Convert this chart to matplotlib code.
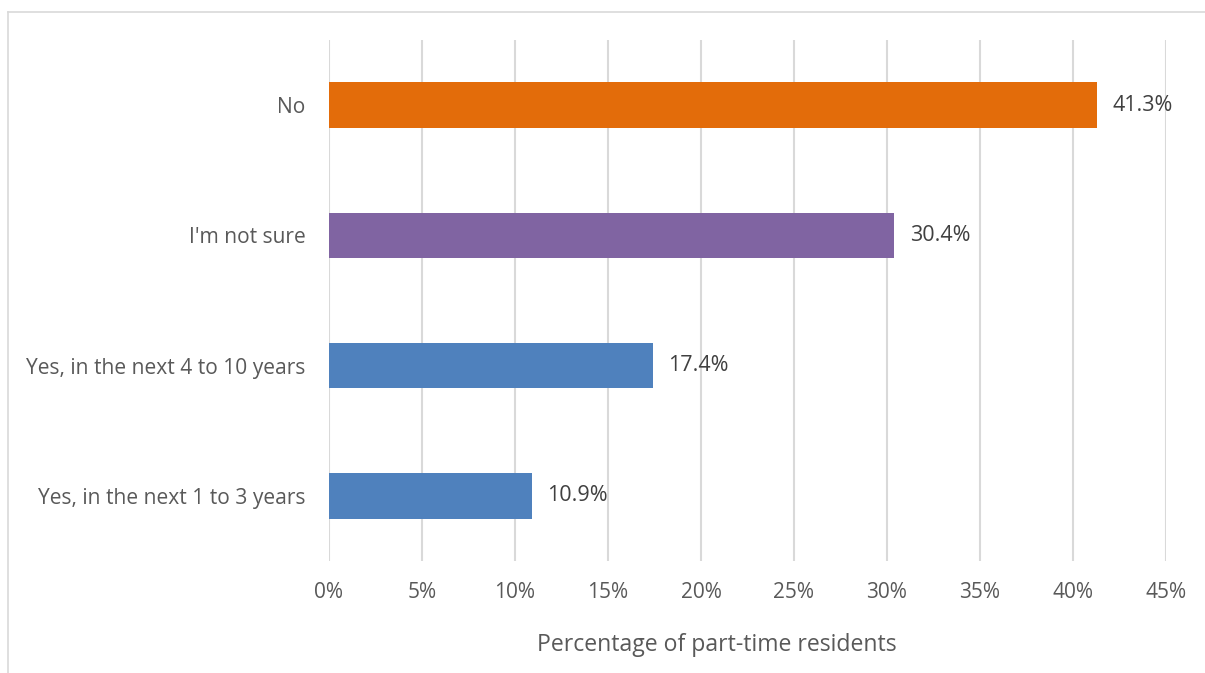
import matplotlib
matplotlib.use("Agg")
import matplotlib.pyplot as plt
from matplotlib.lines import Line2D

categories = ["Yes, in the next 1 to 3 years", "Yes, in the next 4 to 10 years", "I'm not sure", "No"]
values = [10.9, 17.4, 30.4, 41.3]
colors = ["#4F81BD", "#4F81BD", "#8064A2", "#E36C0A"]
xticks = [0, 5, 10, 15, 20, 25, 30, 35, 40, 45]
xlabel = "Percentage of part-time residents"

plt.rcParams["font.family"] = ["Open Sans", "DejaVu Sans"]
text_color = "#595959"
grid_color = "#D9D9D9"

fig = plt.figure(figsize=(12.05, 6.73), dpi=100)
ax = fig.add_axes([329 / 1205, 1 - 561 / 673, (1166 - 329) / 1205, (561 - 40) / 673])

y = list(range(len(categories)))
ax.barh(y, values, height=0.35, color=colors, zorder=3)

for yi, v in zip(y, values):
    ax.annotate(f"{v:.1f}%", xy=(v, yi), xytext=(11, 0), textcoords="offset points",
                va="center", ha="left", fontsize=15.5, color="#404040")

ax.set_xlim(0, 45)
ax.set_ylim(-0.5, len(categories) - 0.5)
ax.set_xticks(xticks)
ax.set_xticklabels([f"{t}%" for t in xticks], fontsize=15, color=text_color)
ax.set_yticks(y)
ax.set_yticklabels(categories, fontsize=15.1, color=text_color)
ax.tick_params(axis="both", length=0)
ax.tick_params(axis="x", pad=15)
ax.tick_params(axis="y", pad=17)
ax.grid(axis="x", color=grid_color, linewidth=1.5, zorder=0)
for s in ax.spines.values():
    s.set_visible(False)

fig.text(717 / 1205, 1 - 645 / 673, xlabel, ha="center", va="center",
         fontsize=16.6, color=text_color)

# outer chart frame (left and top edges)
fig.add_artist(Line2D([8 / 1205, 8 / 1205], [0, 1 - 12 / 673], transform=fig.transFigure,
                      color=grid_color, linewidth=1.2))
fig.add_artist(Line2D([8 / 1205, 1], [1 - 12 / 673, 1 - 12 / 673], transform=fig.transFigure,
                      color=grid_color, linewidth=1.2))

fig.savefig("out.png", dpi=100, facecolor="white")
